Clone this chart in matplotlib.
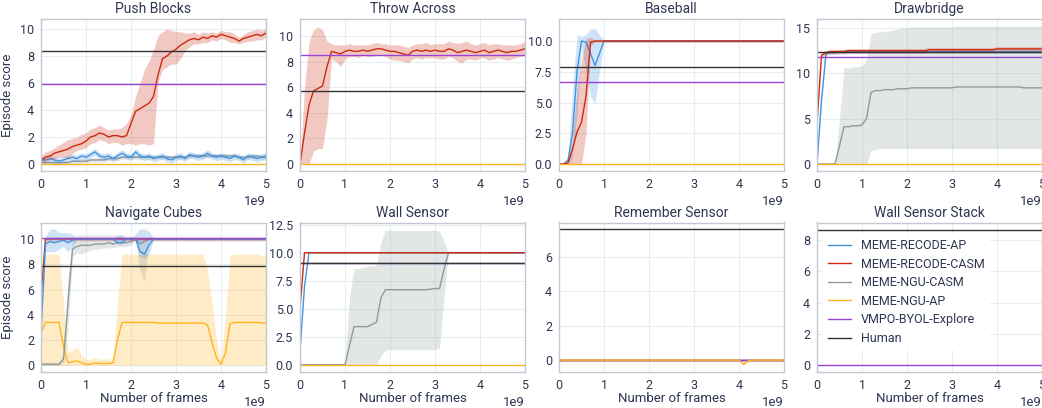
"""Episode score curves for eight tasks, 2x4 grid."""

import matplotlib

matplotlib.use("Agg")
import matplotlib.pyplot as plt
from matplotlib.lines import Line2D
import numpy as np

# x grid: every 0.1e9 frames from 0 to 5e9
FRAMES = np.arange(51) * 1e8

METHODS = ["MEME-RECODE-AP", "MEME-RECODE-CASM", "MEME-NGU-CASM", "MEME-NGU-AP",
           "VMPO-BYOL-Explore", "Human"]
COLORS = ["#4393e0", "#cc2a0e", "#8f9c9a", "#ffb41f", "#9a44d6", "#333333"]

TITLES = ["Push Blocks", "Throw Across", "Baseball", "Drawbridge",
          "Navigate Cubes", "Wall Sensor", "Remember Sensor", "Wall Sensor Stack"]
HUMAN = [8.4, 5.7, 7.9, 12.4, 7.9, 9.1, 7.6, 8.65]
VMPO = [5.9, 8.5, 6.7, 11.8, 10.1, 9.05, 0.0, 0.0]
YLIMS = [(-0.52, 10.74), (-0.55, 11.33), (-0.57, 11.79), (-0.78, 16.0),
         (-0.52, 11.3), (-0.65, 12.7), (-0.69, 8.0), (-0.42, 9.1)]
YTICKS = [[0, 2, 4, 6, 8, 10], [0, 2, 4, 6, 8, 10], [0, 2.5, 5, 7.5, 10], [0, 5, 10, 15],
          [0, 2, 4, 6, 8, 10], [0, 2.5, 5, 7.5, 10, 12.5], [0, 2, 4, 6], [0, 2, 4, 6, 8]]

# ---- Push Blocks
pb_red = [0.3, 0.5, 0.6, 0.8, 0.9, 1.0, 1.1, 1.3, 1.4, 1.5,
          1.7, 2.0, 2.1, 2.3, 2.2, 2.0, 2.1, 2.1, 2.0, 2.1,
          3.0, 3.9, 4.1, 4.3, 4.5, 5.0, 6.6, 7.8, 8.0, 8.3,
          8.5, 8.8, 9.0, 9.2, 9.3, 9.2, 9.4, 9.3, 9.5, 9.4,
          9.6, 9.5, 9.4, 9.3, 9.1, 9.3, 9.4, 9.5, 9.6, 9.5, 9.7]
pb_red_lo = [0.1, 0.2, 0.3, 0.4, 0.5, 0.5, 0.4, 0.8, 1.0, 1.1,
             1.2, 1.5, 1.6, 1.8, 1.7, 1.5, 1.6, 1.6, 1.4, 1.5,
             1.5, 1.4, 1.5, 1.5, 1.4, 1.5, 6.0, 7.0, 7.2, 7.4,
             7.4, 7.8, 8.4, 8.7, 8.9, 8.9, 9.0, 9.0, 9.2, 9.1,
             9.3, 9.2, 9.0, 9.0, 8.9, 9.0, 9.1, 9.1, 9.2, 9.2, 9.4]
pb_red_hi = [0.6, 0.9, 1.0, 1.2, 1.4, 1.6, 1.8, 1.9, 2.0, 2.2,
             2.3, 2.6, 2.7, 2.9, 2.7, 2.5, 2.6, 2.6, 2.7, 3.0,
             3.6, 5.0, 6.0, 7.0, 7.6, 8.5, 9.5, 9.8, 10.0, 9.9,
             9.8, 9.8, 9.7, 9.7, 9.8, 9.6, 9.8, 9.7, 9.8, 9.7,
             9.9, 9.8, 9.8, 9.6, 9.4, 9.6, 9.8, 9.9, 10.0, 9.9, 10.1]
pb_blue = [0.3, 0.3, 0.4, 0.3, 0.2, 0.3, 0.4, 0.5, 0.4, 0.6,
           0.5, 0.7, 0.9, 0.6, 0.5, 0.6, 0.4, 0.6, 0.8, 0.6,
           0.5, 0.9, 0.6, 0.5, 0.6, 0.4, 0.5, 0.6, 0.4, 0.3,
           0.5, 0.6, 0.4, 0.7, 0.6, 0.5, 0.6, 0.8, 0.6, 0.5,
           0.6, 0.5, 0.4, 0.6, 0.5, 0.3, 0.6, 0.5, 0.4, 0.5, 0.6]
pb_gray = [0.1, 0.1, 0.1, 0.1, 0.1, 0.1, 0.1, 0.2, 0.2, 0.2,
           0.2, 0.3, 0.3, 0.3, 0.3, 0.4, 0.4, 0.4, 0.5, 0.5,
           0.5, 0.5, 0.5, 0.5, 0.5, 0.5, 0.5, 0.5, 0.5, 0.5,
           0.5, 0.5, 0.5, 0.6, 0.6, 0.6, 0.6, 0.6, 0.6, 0.6,
           0.6, 0.6, 0.6, 0.6, 0.5, 0.5, 0.5, 0.6, 0.6, 0.5, 0.5]

# ---- Throw Across
ta_red = [0.0, 2.4, 4.6, 5.7, 5.9, 6.1, 7.6, 8.8, 8.7, 8.6,
          8.8, 8.9, 8.8, 8.8, 8.9, 8.8, 8.9, 9.0, 9.0, 8.9,
          8.8, 8.8, 8.7, 8.6, 8.5, 8.8, 8.9, 8.8, 8.9, 8.8,
          8.9, 8.8, 8.8, 9.0, 8.9, 8.7, 8.8, 8.9, 8.8, 8.7,
          8.8, 8.9, 8.7, 8.8, 8.9, 8.8, 8.7, 8.8, 8.8, 8.9, 9.0]
ta_red_lo = [0.0, 0.0, 0.0, 1.0, 1.2, 1.2, 3.5, 8.2, 8.0, 7.6,
             8.2, 8.4, 8.4, 8.3, 8.5, 8.4, 8.4, 8.5, 8.5, 8.4,
             8.2, 8.1, 8.1, 8.0, 7.9, 8.2, 8.3, 8.2, 8.3, 8.3,
             8.3, 8.2, 8.2, 8.4, 8.3, 8.0, 7.9, 8.2, 8.2, 8.1,
             8.3, 8.3, 8.1, 8.2, 8.3, 8.2, 8.1, 8.2, 8.3, 8.4, 8.5]
ta_red_hi = [0.0, 6.0, 9.5, 10.5, 10.7, 10.5, 9.6, 9.4, 9.3, 9.3,
             9.3, 9.4, 9.3, 9.3, 9.3, 9.3, 9.4, 9.5, 9.4, 9.4,
             9.3, 9.3, 9.3, 9.2, 9.1, 9.3, 9.4, 9.4, 9.5, 9.3,
             9.4, 9.4, 9.4, 9.6, 9.5, 9.4, 9.5, 9.6, 9.4, 9.3,
             9.4, 9.5, 9.3, 9.4, 9.4, 9.3, 9.3, 9.3, 9.3, 9.4, 9.6]

# ---- Baseball
bb_blue = [0.0, 0.0, 0.3, 2.5, 7.5, 10.0, 9.9, 9.0, 8.0, 9.0, 10.0] + [10.0] * 40
bb_blue_lo = [0.0, 0.0, 0.0, 0.5, 4.0, 9.5, 7.5, 5.5, 4.9, 7.5, 9.9] + [9.9] * 40
bb_blue_hi = [0.0, 0.0, 0.6, 6.0, 10.5, 10.4, 10.5, 11.0, 11.0, 10.5, 10.1] + [10.1] * 40
bb_red = [0.0, 0.0, 0.1, 1.2, 2.6, 3.4, 5.5, 9.9, 10.0, 10.0, 10.0] + [10.0] * 40
bb_red_lo = [0.0, 0.0, 0.0, 0.0, 0.0, 0.0, 2.5, 9.6, 9.9, 9.9, 9.9] + [9.9] * 40
bb_red_hi = [0.0, 0.0, 0.2, 2.0, 6.0, 8.5, 10.2, 10.3, 10.1, 10.1, 10.1] + [10.1] * 40

# ---- Drawbridge
db_red = [4.5, 12.0, 12.3, 12.4, 12.4, 12.4, 12.4, 12.5, 12.5, 12.5] + [12.5] * 15 + [12.6] * 15 + [12.7] * 11
db_blue = [0.0, 7.0, 12.2, 12.3, 12.3] + [12.4] * 46
db_gray = ([0.0, 0.0, 0.0, 0.0, 0.0, 2.0, 4.1, 4.1, 4.2, 4.2, 4.3, 5.0, 7.9, 8.1, 8.1,
            8.2, 8.2, 8.2, 8.3, 8.3, 8.3] + [8.4] * 10 + [8.5] * 15 + [8.4] * 5)
db_gray_hi = ([0.0, 0.0, 0.0, 0.0, 0.0, 5.0, 10.6, 10.6, 10.7, 10.7, 10.8, 11.5, 14.4, 14.5,
               14.6, 14.6, 14.7, 14.8, 14.9, 15.0, 15.0] + [15.1] * 10 + [15.2] * 20)
db_gray_lo = [0.0] * 12 + [1.5, 1.6] + [1.7] * 37

# ---- Navigate Cubes
nc_red = [5.5] + [10.0] * 50
nc_blue = ([2.8, 9.6, 9.8, 9.7, 9.8, 9.9, 9.7, 9.9, 10.0, 10.0] + [10.0] * 7 + [9.7, 9.7, 10.0]
           + [10.0, 10.0, 9.0, 8.8, 9.5, 10.0] + [10.0] * 25)
nc_blue_lo = ([2.0, 9.0, 9.0, 9.0, 9.2, 9.4, 9.0, 9.4, 9.9, 9.9] + [9.9] * 7 + [9.6, 9.6, 9.9]
              + [9.9, 9.9, 8.6, 8.5, 8.8, 9.9] + [9.9] * 25)
nc_blue_hi = ([3.5, 10.2, 10.8, 10.8, 10.5, 10.5, 10.5, 10.4, 10.1, 10.1] + [10.1] * 7
              + [10.3, 10.3, 10.1] + [10.1, 10.4, 10.8, 10.8, 10.6, 10.1] + [10.1] * 25)
nc_gray = ([0.1, 0.1, 0.1, 0.1, 0.1, 0.5, 5.0, 9.2, 9.4, 9.5,
            9.5, 9.5, 9.6, 9.6, 9.6, 9.7, 9.6, 9.7, 9.7, 9.7,
            9.8, 10.0, 9.6, 9.8, 10.0] + [10.0] * 26)
nc_gray_lo = ([0.0, 0.0, 0.0, 0.0, 0.0, 0.2, 3.0, 8.6, 8.9, 8.8,
               9.0, 9.1, 9.2, 9.2, 9.3, 9.3, 9.3, 9.4, 9.4, 9.4,
               9.5, 9.9, 7.5, 6.6, 9.9] + [9.9] * 26)
nc_gray_hi = ([0.2, 0.2, 0.2, 0.2, 0.2, 1.0, 7.0, 9.9, 10.3, 10.3,
               10.3, 10.3, 10.3, 10.3, 10.3, 10.3, 10.3, 10.3, 10.3, 10.2,
               10.2, 10.1, 10.1, 10.1, 10.1] + [10.1] * 26)
nc_orange = [2.6, 3.4, 3.4, 3.4, 3.4, 1.5, 0.2, 0.3, 0.35, 0.2,
             0.1, 0.1, 0.2, 0.15, 0.15, 0.15, 0.2, 2.0, 3.4, 3.4,
             3.4, 3.4, 3.4, 3.4, 3.4, 3.4, 3.35, 3.35, 3.35, 3.35,
             3.35, 3.35, 3.35, 3.35, 3.35, 3.35, 3.35, 3.2, 1.8, 0.6,
             0.1, 1.0, 3.3, 3.4, 3.4, 3.4, 3.4, 3.4, 3.4, 3.35, 3.35]
nc_orange_hi = ([5.0, 8.8, 8.8, 8.8, 8.8, 5.0, 1.0, 1.2, 1.5, 0.8,
                 0.5, 0.5, 0.6, 0.5, 0.5, 0.5, 0.6, 5.0, 8.8, 8.8] + [8.8] * 17
                + [7.5, 5.0, 2.0, 0.3, 4.0, 8.7] + [8.8] * 6 + [8.7, 8.6])

# ---- Wall Sensor
ws_red = [5.0] + [10.0] * 50
ws_blue = [1.2, 7.0, 10.0] + [10.0] * 48
ws_gray = ([0.0] * 11 + [1.7, 3.4, 3.4, 3.4, 3.4, 3.6, 3.8, 6.0, 6.7] + [6.7] * 9
           + [6.75, 6.8, 6.8, 8.5] + [10.0] * 18)
ws_gray_hi = ([0.0] * 10 + [0.3, 6.0, 8.6, 8.6, 8.7, 8.8, 8.8, 8.9, 11.0] + [12.0] * 12
              + [11.9, 11.0] + [10.0] * 18)
ws_gray_lo = [0.0] * 18 + [0.8, 1.3] + [1.35] * 11 + [1.5, 6.0] + [10.0] * 18

# ---- Remember Sensor
rs_zero = [0.0] * 51
rs_orange = [0.0] * 41 + [-0.25, -0.05] + [0.0] * 8

ZERO = [0.0] * 51

plt.rcParams["font.family"] = ["Roboto", "DejaVu Sans"]
TEXT = "#2e3652"
plt.rcParams.update({
    "text.color": TEXT,
    "axes.labelcolor": TEXT,
    "xtick.color": TEXT,
    "ytick.color": TEXT,
    "xtick.labelsize": 9,
    "ytick.labelsize": 9,
})


def band(ax, y, lo, hi, color, z=2):
    ax.fill_between(FRAMES, lo, hi, color=color, alpha=0.25, linewidth=0, zorder=z)
    ax.plot(FRAMES, y, color=color, linewidth=1.0, zorder=z)


def spread(ax, y, width, color, z=2):
    y = np.asarray(y)
    band(ax, y, y - width, y + width, color, z)


blue, red, gray, orange, purple, black = COLORS

fig = plt.figure(figsize=(10.42, 4.08), dpi=100)
lefts = [41, 300, 559, 817]
axes = []
for i in range(8):
    r, c = divmod(i, 4)
    if r == 0:
        bottom, height = 1 - 171 / 408, 152 / 408
    else:
        bottom, height = 1 - 372 / 408, 149.5 / 408
    axes.append(fig.add_axes([lefts[c] / 1042, bottom, 225 / 1042, height]))

# Push Blocks
ax = axes[0]
spread(ax, pb_gray, 0.15, gray)
spread(ax, pb_blue, 0.25, blue)
band(ax, pb_red, pb_red_lo, pb_red_hi, red)
ax.plot(FRAMES, ZERO, color=orange, linewidth=1.0)

# Throw Across
ax = axes[1]
band(ax, ta_red, ta_red_lo, ta_red_hi, red)
ax.plot(FRAMES, ZERO, color=orange, linewidth=1.0)

# Baseball
ax = axes[2]
band(ax, bb_blue, bb_blue_lo, bb_blue_hi, blue)
band(ax, bb_red, bb_red_lo, bb_red_hi, red)
ax.plot(FRAMES, ZERO, color=orange, linewidth=1.0)

# Drawbridge
ax = axes[3]
band(ax, db_gray, db_gray_lo, db_gray_hi, gray)
spread(ax, db_blue, 0.2, blue)
spread(ax, db_red, 0.25, red)
ax.plot(FRAMES, ZERO, color=orange, linewidth=1.0)

# Navigate Cubes
ax = axes[4]
band(ax, nc_orange, ZERO, nc_orange_hi, orange)
band(ax, nc_gray, nc_gray_lo, nc_gray_hi, gray)
spread(ax, nc_red, 0.15, red)
band(ax, nc_blue, nc_blue_lo, nc_blue_hi, blue)

# Wall Sensor
ax = axes[5]
band(ax, ws_gray, ws_gray_lo, ws_gray_hi, gray)
ax.plot(FRAMES, ws_blue, color=blue, linewidth=1.0)
ax.plot(FRAMES, ws_red, color=red, linewidth=1.0)
ax.plot(FRAMES, ZERO, color=orange, linewidth=1.0)

# Remember Sensor (orange drawn above the VMPO line)
ax = axes[6]
ax.plot(FRAMES, rs_zero, color=blue, linewidth=1.0)
ax.plot(FRAMES, rs_zero, color=gray, linewidth=1.0)
ax.plot(FRAMES, rs_zero, color=red, linewidth=1.0)
spread(ax, rs_orange, 0.05, orange, z=3)

for i, ax in enumerate(axes):
    ax.axhline(VMPO[i], color=purple, linewidth=1.0)
    ax.axhline(HUMAN[i], color=black, linewidth=1.0)
    ax.set_title(TITLES[i], fontsize=10, pad=4)
    ax.set_xlim(0, 5e9)
    ax.set_ylim(*YLIMS[i])
    ax.set_yticks(YTICKS[i])
    ax.set_xticks(np.arange(6) * 1e9)
    ax.grid(True, color="#e7eef1", linewidth=0.8)
    ax.set_axisbelow(True)
    ax.tick_params(length=0, pad=5)
    for sp in ax.spines.values():
        sp.set_color("#c2c8d4")
        sp.set_linewidth(1.0)
    ax.xaxis.get_offset_text().set_fontsize(9.5)
    if i >= 4:
        ax.set_xlabel("Number of frames", fontsize=9.5, labelpad=0)
    if i in (0, 4):
        ax.set_ylabel("Episode score", fontsize=9.5)

handles = [Line2D([], [], color=c, linewidth=1.0) for c in COLORS]
leg = axes[7].legend(handles, METHODS, loc="upper left", bbox_to_anchor=(0.0, 0.965),
                     fontsize=9, labelspacing=0.45, frameon=True, framealpha=1.0,
                     edgecolor="none", handlelength=1.8, handletextpad=0.8)

fig.savefig("out.png", dpi=100)
